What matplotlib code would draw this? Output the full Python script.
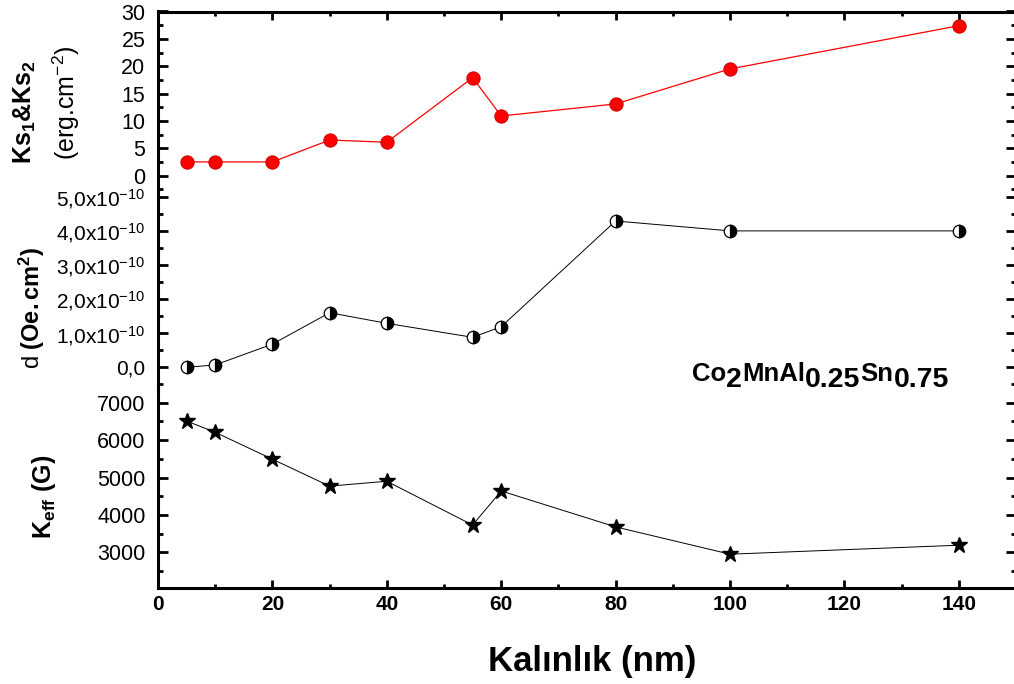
import numpy as np
import matplotlib.pyplot as plt
from matplotlib.ticker import MultipleLocator, FuncFormatter

plt.rcParams['font.family'] = ['Liberation Sans', 'DejaVu Sans']
plt.rcParams['mathtext.fontset'] = 'custom'
plt.rcParams['mathtext.rm'] = 'Liberation Sans'
plt.rcParams['mathtext.bf'] = 'Liberation Sans:bold'
plt.rcParams['mathtext.it'] = 'Liberation Sans:italic'

# film thickness (nm) and the three measured quantities
thickness = [5, 10, 20, 30, 40, 55, 60, 80, 100, 140]
ks = [2.5, 2.5, 2.5, 6.5, 6.1, 17.9, 10.9, 13.1, 19.5, 27.4]
d_vals = [0.0, 0.07e-10, 0.68e-10, 1.60e-10, 1.29e-10, 0.88e-10, 1.19e-10, 4.29e-10, 4.0e-10, 4.0e-10]
k_eff = [6510, 6210, 5490, 4770, 4900, 3730, 4640, 3680, 2950, 3190]

W, H = 1014, 684
fig = plt.figure(figsize=(W / 100, H / 100), dpi=100)

left = 158 / W
width = (1016 - 158) / W


def box(top_px, bot_px):
    return [left, 1 - bot_px / H, width, (bot_px - top_px) / H]


ax1 = fig.add_axes(box(11.5, 192))
ax2 = fig.add_axes(box(192, 390))
ax3 = fig.add_axes(box(390, 588))

ax1.plot(thickness, ks, color='red', lw=0.9, marker='o', ms=9.5,
         mfc='red', mec='#d00000', mew=0.8)
ax2.plot(thickness, d_vals, color='black', lw=0.7, marker='o', ms=9,
         fillstyle='right', mfc='black', mfcalt='white', mec='black', mew=0.9)
ax3.plot(thickness, k_eff, color='black', lw=0.7, marker='*', ms=12,
         mfc='black', mec='black')

ax1.set_ylim(-3, 30)
ax2.set_ylim(-0.665e-10, 5.14e-10)
ax3.set_ylim(2046, 7340)

ax1.yaxis.set_major_locator(MultipleLocator(5))
ax1.yaxis.set_minor_locator(MultipleLocator(2.5))
ax2.yaxis.set_major_locator(MultipleLocator(1e-10))
ax2.yaxis.set_minor_locator(MultipleLocator(0.5e-10))
ax3.yaxis.set_major_locator(MultipleLocator(1000))
ax3.yaxis.set_minor_locator(MultipleLocator(500))


def sci_comma(v, pos):
    if abs(v) < 1e-15:
        return '0,0'
    return f'{v * 1e10:.1f}'.replace('.', ',') + 'x10$^{-10}$'


def keff_fmt(v, pos):
    return '' if v < 2500 else f'{v:.0f}'


ax2.yaxis.set_major_formatter(FuncFormatter(sci_comma))
ax3.yaxis.set_major_formatter(FuncFormatter(keff_fmt))

for ax in (ax1, ax2, ax3):
    ax.set_xlim(0, 150)
    ax.xaxis.set_major_locator(MultipleLocator(20))
    ax.xaxis.set_minor_locator(MultipleLocator(10))
    for s in ax.spines.values():
        s.set_linewidth(2.2)
    ax.spines['top'].set_visible(False)
    ax.spines['bottom'].set_visible(False)
    ax.tick_params(axis='y', which='both', direction='in', left=True, right=True,
                   width=2, labelsize=15.5, pad=9)
    ax.tick_params(axis='y', which='major', length=7)
    ax.tick_params(axis='y', which='minor', length=3.5)
    ax.tick_params(axis='x', which='both', direction='in', top=False, bottom=False,
                   labelbottom=False, width=2)
    ax.tick_params(axis='x', which='major', length=6)
    ax.tick_params(axis='x', which='minor', length=3)

ax2.tick_params(axis='y', labelsize=15)
ax1.spines['top'].set_visible(True)
ax1.tick_params(axis='x', which='both', top=True)
ax3.spines['bottom'].set_visible(True)
ax3.tick_params(axis='x', which='both', bottom=True, labelbottom=True, pad=5)
for lab in ax3.get_xticklabels():
    lab.set_fontweight('bold')
    lab.set_fontsize(15)

fig.text(25 / W, 1 - 112 / H, r'Ks$_\mathbf{1}$&Ks$_\mathbf{2}$', rotation=90,
         ha='center', va='center', fontsize=18, fontweight='bold')
fig.text(66 / W, 1 - 103 / H, r'(erg.cm$^{-2}$)', rotation=90,
         ha='center', va='center', fontsize=18)
fig.text(32 / W, 1 - 308 / H, r'$\mathrm{d}\ \mathbf{(Oe.cm^{2})}$', rotation=90,
         ha='center', va='center', fontsize=17)
fig.text(44 / W, 1 - 497 / H, r'K$_\mathbf{eff}$ (G)', rotation=90,
         ha='center', va='center', fontsize=18, fontweight='bold')

fig.text(592 / W, 1 - 662 / H, 'Kalınlık (nm)', ha='center', va='center',
         fontsize=25, fontweight='bold')

# compound formula, built piece by piece so the subscripts stay large
pieces = [('Co', 0), ('2', -5), ('MnAl', 0), ('0.25', -5), ('Sn', 0), ('0.75', -5)]
prev = ax2.annotate(pieces[0][0], xy=(692 / W, 1 - 381 / H), xycoords='figure fraction',
                    ha='left', va='baseline', fontsize=18.5, fontweight='bold')
prev_dy = 0
for txt, dy in pieces[1:]:
    size = 18.5 if dy == 0 else 20.5
    prev = ax2.annotate(txt, xy=(1, 0), xycoords=prev, xytext=(0, dy - prev_dy),
                        textcoords='offset points', ha='left', va='bottom',
                        fontsize=size, fontweight='bold')
    prev_dy = dy

fig.savefig('out.png', dpi=100)
